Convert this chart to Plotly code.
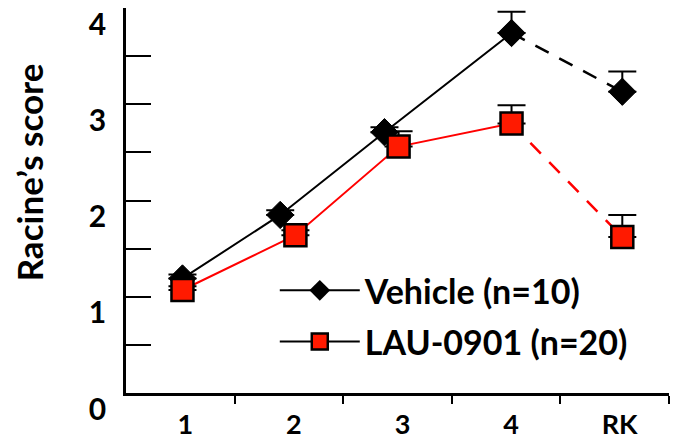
import plotly.graph_objects as go

# sessions (x positions, points slightly jittered)
session_labels = ["1", "2", "3", "4", "RK"]
session_pos = [1, 2, 3, 4, 5]
vehicle_x = [1.02, 1.92, 2.88, 4.05, 5.07]
lau_x = [1.02, 2.06, 3.01, 4.05, 5.07]

vehicle_y = [1.19, 1.85, 2.71, 3.74, 3.13]
vehicle_err = [0.04, 0.05, 0.05, 0.22, 0.21]
lau_y = [1.07, 1.64, 2.56, 2.80, 1.62]
lau_err = [0.04, 0.05, 0.16, 0.19, 0.23]

y_ticks = [0, 1, 2, 3, 4]

FONT = "Lato"
RED = "#ff1a00"

fig = go.Figure()

# solid part (training sessions), dashed part (retest)
fig.add_trace(go.Scatter(x=vehicle_x[:4], y=vehicle_y[:4], mode="lines",
                         line=dict(color="black", width=2), showlegend=False))
fig.add_trace(go.Scatter(x=vehicle_x[3:], y=vehicle_y[3:], mode="lines",
                         line=dict(color="black", width=2.5, dash="15px,12px"), showlegend=False))
fig.add_trace(go.Scatter(x=lau_x[:4], y=lau_y[:4], mode="lines",
                         line=dict(color="red", width=2), showlegend=False))
fig.add_trace(go.Scatter(x=lau_x[3:], y=lau_y[3:], mode="lines",
                         line=dict(color="red", width=2.5, dash="15px,12px"), showlegend=False))

# markers with upper error bars
fig.add_trace(go.Scatter(
    x=vehicle_x, y=vehicle_y, mode="markers", showlegend=False, cliponaxis=False,
    marker=dict(symbol="diamond", size=21, color="black", line=dict(color="black", width=1)),
    error_y=dict(type="data", symmetric=False, array=vehicle_err, arrayminus=[0] * 5,
                 color="black", thickness=2, width=14),
))
fig.add_trace(go.Scatter(
    x=lau_x, y=lau_y, mode="markers", showlegend=False,
    marker=dict(symbol="square", size=22, color=RED, line=dict(color="black", width=2.5)),
    error_y=dict(type="data", symmetric=False, array=lau_err, arrayminus=[0] * 5,
                 color="black", thickness=2, width=14),
))

# legend entries (black line for both)
fig.add_trace(go.Scatter(x=[None], y=[None], mode="lines+markers", name="Vehicle (n=10)",
                         legendgroup="v", line=dict(color="black", width=2),
                         marker=dict(symbol="diamond", size=21, color="black")))
fig.add_trace(go.Scatter(x=[None], y=[None], mode="lines+markers", name="LAU-0901 (n=20)",
                         legendgroup="l", line=dict(color="black", width=2),
                         marker=dict(symbol="square", size=20, color=RED,
                                     line=dict(color="black", width=2.5))))

# the page body keeps its default 8px margin, so the figure is 8px smaller
fig.update_layout(
    width=675, height=433,
    margin=dict(l=118, r=14, t=0, b=48, autoexpand=False),
    plot_bgcolor="white", paper_bgcolor="white",
    font=dict(family=FONT, color="black"),
    legend=dict(x=0.274, y=0.341, xanchor="left", yanchor="top",
                font=dict(size=34, family=FONT, weight="bold"),
                itemwidth=80, tracegroupgap=4, bgcolor="rgba(0,0,0,0)"),
    annotations=[dict(text="<b>Racine’s score</b>", textangle=-90, xref="paper", yref="paper",
                      x=-0.178, y=0.574, xanchor="center", showarrow=False,
                      font=dict(size=35, family=FONT))],
)
fig.update_xaxes(
    range=[0.5, 5.5], tickvals=session_pos, ticktext=session_labels, automargin=False,
    ticks="", showline=True, linecolor="black", linewidth=2.5, showgrid=False, zeroline=False,
    tickfont=dict(size=27, family=FONT, weight="bold"), ticklabelshift=5, ticklabelstandoff=6,
    minor=dict(ticks="outside", tickvals=[1.5, 2.5, 3.5, 4.5, 5.5], ticklen=8, tickwidth=2,
               tickcolor="black"),
)
fig.update_yaxes(
    range=[0, 4], tickvals=y_ticks, ticks="inside", ticklen=25, tickwidth=2, tickcolor="black",
    automargin=False, ticklabeloverflow="allow",
    showline=True, linecolor="black", linewidth=2.5, showgrid=False, zeroline=False,
    tickfont=dict(size=30, family=FONT, weight="bold"), ticklabelshift=16, ticklabelstandoff=11,
    minor=dict(ticks="inside", dtick=0.5, tick0=0, ticklen=25, tickwidth=2, tickcolor="black"),
)

fig.write_html("out.html")
